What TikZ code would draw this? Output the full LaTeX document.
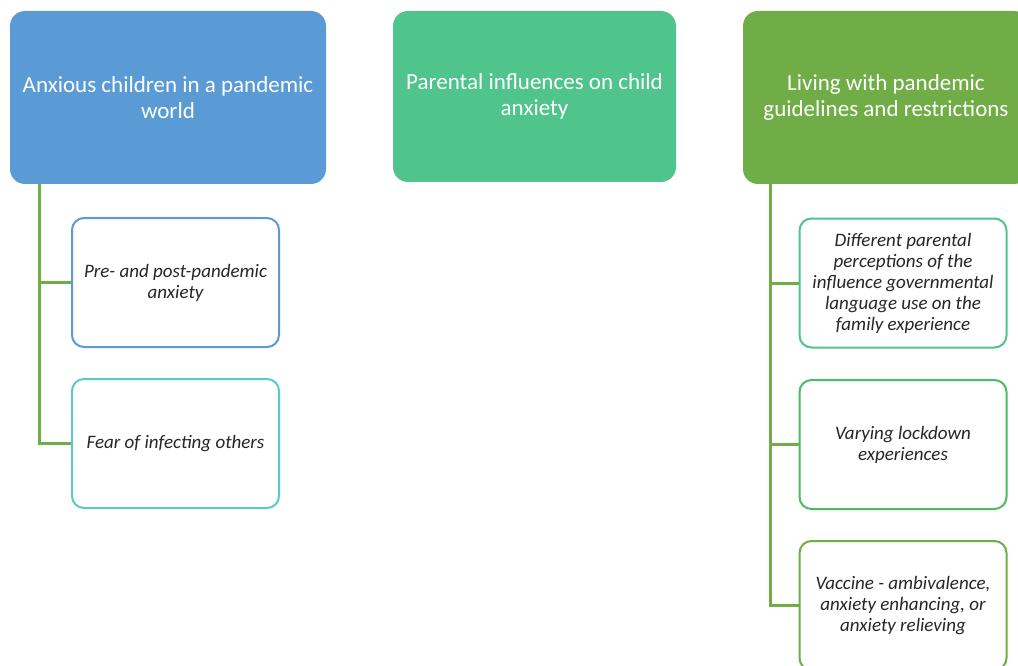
\documentclass[tikz,border=0pt]{standalone}
\usepackage{fontspec}
\setmainfont{Carlito}

\definecolor{blueA}{HTML}{5B9BD5}
\definecolor{tealA}{HTML}{50C48D}
\definecolor{greenA}{HTML}{70AD47}
\definecolor{cyanA}{HTML}{5BC9C9}
\definecolor{greenB}{HTML}{4EBB62}

\tikzset{
  head/.style={rounded corners=15pt, text=white, align=center,
    font=\fontsize{23}{26}\selectfont, minimum height=173pt, inner sep=0pt},
  theme/.style={draw=#1, line width=2pt, rounded corners=12pt, fill=white,
    align=center, text=black!85, font=\fontsize{19}{21}\selectfont\itshape,
    minimum width=207pt, minimum height=129pt, inner sep=0pt},
  link/.style={draw=greenA, line width=3pt}
}

\begin{document}
\begin{tikzpicture}[x=1pt,y=-1pt]
\clip (0,0) rectangle (1018,666);

% the three main themes
\node[head, fill=blueA, minimum width=316pt] (anxious) at (168,97.5)
  {Anxious children in a pandemic\\world};
\node[head, fill=tealA, minimum width=283pt, minimum height=171pt] (parental) at (534.5,96.5)
  {Parental influences on child\\anxiety};
\node[head, fill=greenA, minimum width=286pt] (living) at (886,97.5)
  {Living with pandemic\\guidelines and restrictions};

% subthemes
\node[theme=blueA] (prepost) at (175.5,282.5) {Pre- and post-pandemic\\anxiety};
\node[theme=cyanA] (fear) at (175.5,443.5) {Fear of infecting others};

\node[theme=tealA] (language) at (903,283)
  {Different parental\\perceptions of the\\influence governmental\\language use on the\\family experience};
\node[theme=greenB] (lockdown) at (903,444.5) {Varying lockdown\\experiences};
\node[theme=greenA] (vaccine) at (903,605.5)
  {Vaccine - ambivalence,\\anxiety enhancing, or\\anxiety relieving};

% connectors
\foreach \s in {prepost,fear}
  \draw[link] ([xshift=30pt]anxious.south west) |- (\s.west);
\foreach \s in {language,lockdown,vaccine}
  \draw[link] ([xshift=28pt]living.south west) |- (\s.west);
\end{tikzpicture}
\end{document}
